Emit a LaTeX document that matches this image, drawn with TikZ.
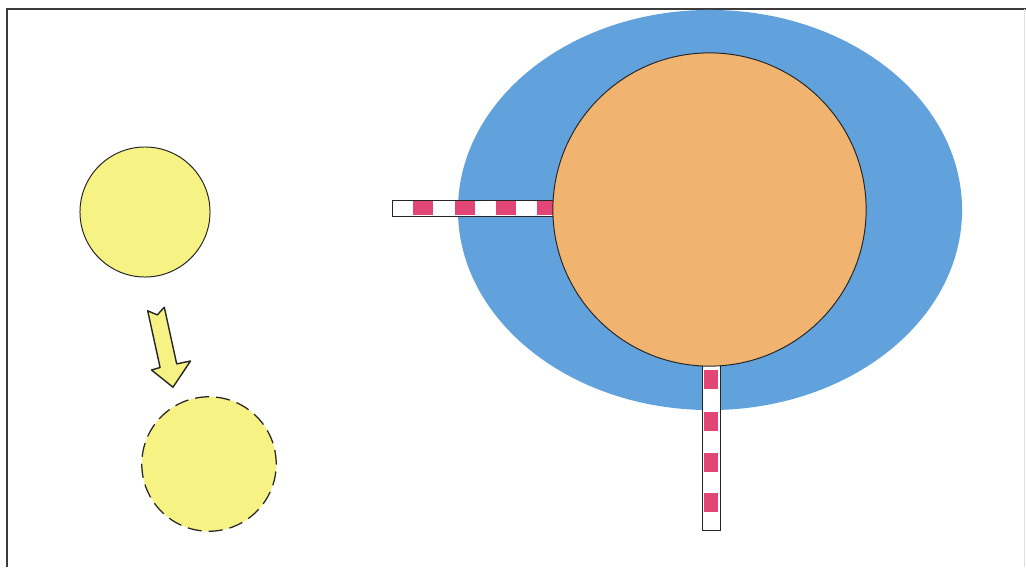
\documentclass[tikz,border=0pt]{standalone}
\usetikzlibrary{shapes.geometric}
\definecolor{sunyellow}{RGB}{246,242,132}
\definecolor{skyblue}{RGB}{98,162,220}
\definecolor{coreorange}{RGB}{240,180,112}
\definecolor{stripepink}{RGB}{226,70,118}
\definecolor{framegray}{RGB}{60,60,60}
\tikzset{
  ball/.style={circle, draw=black!85, line width=0.7pt, fill=sunyellow, inner sep=0pt},
  dashball/.style={ball, line width=0.9pt, dash pattern=on 10pt off 5pt},
  halo/.style={ellipse, fill=skyblue, draw=none, inner sep=0pt},
  core/.style={circle, fill=coreorange, draw=black!85, line width=0.7pt, inner sep=0pt},
  barbox/.style={fill=white, draw=black!85, line width=0.6pt},
  stripe/.style={fill=stripepink, draw=none},
  blockarrow/.style={fill=sunyellow, draw=black!85, line width=1pt, line join=round},
  frameline/.style={draw=framegray, line width=1.4pt}
}
\begin{document}
\begin{tikzpicture}[x=0.025cm, y=-0.025cm]
\useasboundingbox (0,0) rectangle (1026,567);
\fill[white] (0,0) rectangle (1026,567);
% frame
\draw[frameline] (7,567) -- (7,9) -- (1026,9);
\draw[draw=black!12, line width=0.6pt] (1024,9) -- (1024,567);
% left circles
\node[ball, minimum size=3.25cm] (top) at (145,212) {};
\node[dashball, minimum size=3.36cm] (bottom) at (209,464) {};
% block arrow between them
\draw[blockarrow] (164.3,307.2) -- (176.7,363.9) -- (190.5,361.0) -- (173.0,387.2)
  -- (151.5,370.0) -- (160.1,367.5) -- (147.7,310.8) -- (157.3,314.9) -- cycle;
% blue halo
\node[halo, minimum width=12.6cm, minimum height=10cm] (halo) at (710,210) {};
% horizontal bar
\draw[barbox] (392,200) rectangle (560,216);
\foreach \x in {413,455,496,537}
  \fill[stripe] (\x,201) rectangle ({min(\x+20,556)},215.3);
% vertical bar
\draw[barbox] (702,350) rectangle (720,530);
\foreach \y in {370,412,453,493}
  \fill[stripe] (704,\y) rectangle (718,\y+19);
% orange core
\node[core, minimum size=7.83cm] (core) at (709.5,209.5) {};
\end{tikzpicture}
\end{document}
